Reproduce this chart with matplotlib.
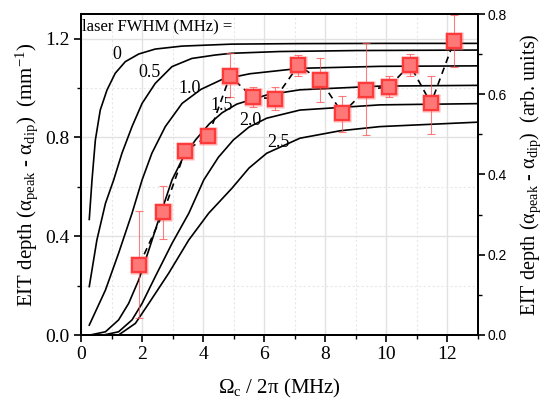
import matplotlib
matplotlib.use("Agg")
import matplotlib.pyplot as plt
from matplotlib.ticker import MultipleLocator, FormatStrFormatter

plt.rcParams['font.family'] = ['Liberation Serif', 'DejaVu Serif']
plt.rcParams['mathtext.fontset'] = 'custom'
plt.rcParams['mathtext.rm'] = 'Liberation Serif'
plt.rcParams['mathtext.it'] = 'Liberation Serif:italic'

# theory curves for each laser FWHM
fwhm_labels = ["0", "0.5", "1.0", "1.5", "2.0", "2.5"]
curve_x = [
    [0.27, 0.36, 0.47, 0.63, 0.85, 1.12, 1.45, 1.89, 2.43, 3.31, 4.94, 7.0, 10.0, 13.0],
    [0.27, 0.52, 0.80, 1.07, 1.34, 1.67, 2.00, 2.43, 2.98, 3.63, 4.40, 4.94, 6.5, 9.0, 13.0],
    [0.27, 0.80, 1.23, 1.67, 2.00, 2.32, 2.76, 3.31, 3.93, 4.62, 5.53, 7.17, 9.79, 13.0],
    [0.30, 0.80, 1.23, 1.56, 1.89, 2.22, 2.54, 2.98, 3.35, 3.75, 4.20, 4.62, 5.10, 6.08, 7.17, 9.79, 13.0],
    [0.74, 1.23, 1.67, 2.00, 2.43, 2.98, 3.53, 4.02, 4.50, 4.99, 5.50, 6.08, 7.17, 9.79, 13.0],
    [1.23, 1.78, 2.22, 2.87, 3.53, 4.18, 4.94, 5.50, 6.08, 7.17, 8.48, 9.79, 13.0],
]
curve_y = [
    [0.468, 0.628, 0.79, 0.911, 0.992, 1.06, 1.107, 1.138, 1.158, 1.170, 1.178, 1.180, 1.181, 1.181],
    [0.196, 0.385, 0.533, 0.628, 0.736, 0.844, 0.938, 1.019, 1.087, 1.120, 1.134, 1.141, 1.148, 1.152, 1.154],
    [0.04, 0.182, 0.331, 0.493, 0.628, 0.736, 0.844, 0.938, 0.995, 1.035, 1.058, 1.080, 1.088, 1.090],
    [0.0, 0.013, 0.061, 0.128, 0.223, 0.344, 0.466, 0.628, 0.72, 0.79, 0.855, 0.90, 0.935, 0.972, 0.993, 1.008, 1.011],
    [0.0, 0.013, 0.061, 0.128, 0.236, 0.371, 0.493, 0.628, 0.72, 0.79, 0.842, 0.878, 0.911, 0.932, 0.937],
    [0.0, 0.047, 0.128, 0.25, 0.385, 0.493, 0.594, 0.676, 0.736, 0.797, 0.827, 0.844, 0.862],
]
label_x = [1.18, 2.23, 3.54, 4.60, 5.56, 6.48]
label_y = [1.138, 1.065, 1.0, 0.93, 0.867, 0.778]

# measured EIT depth
meas_x = [1.91, 2.70, 3.41, 4.17, 4.88, 5.62, 6.35, 7.12, 7.83, 8.56, 9.32, 10.09, 10.77, 11.46, 12.22]
meas_y = [0.284, 0.497, 0.745, 0.806, 1.049, 0.963, 0.957, 1.092, 1.033, 0.898, 0.992, 1.006, 1.094, 0.938, 1.192]
err_lo = [0.214, 0.109, 0.02, 0.025, 0.084, 0.038, 0.046, 0.043, 0.088, 0.075, 0.182, 0.043, 0.045, 0.124, 0.105]
err_hi = [0.219, 0.108, 0.02, 0.025, 0.092, 0.040, 0.046, 0.042, 0.088, 0.071, 0.189, 0.043, 0.043, 0.111, 0.104]

fig = plt.figure(figsize=(5.43, 4.0), dpi=100)
ax = fig.add_axes([0.1492, 0.1625, 0.7311, 0.8025])

for xs, ys in zip(curve_x, curve_y):
    ax.plot(xs, ys, color='black', lw=1.2, zorder=2)
for lab, lx, ly in zip(fwhm_labels, label_x, label_y):
    ax.text(lx, ly, lab, fontsize=13, ha='center', va='center', zorder=2)
ax.text(0.03, 1.25, "laser FWHM (MHz) =", fontsize=12, ha='left', va='center')

ax.plot(meas_x, meas_y, color='black', lw=1.2, dashes=(4, 3), zorder=3)
ax.errorbar(meas_x, meas_y, yerr=[err_lo, err_hi], fmt='none', ecolor='#ff5050',
            elinewidth=0.8, capsize=3, capthick=0.8, alpha=0.75, zorder=4)
# soft halo + square marker
ax.plot(meas_x, meas_y, ls='none', marker='s', ms=12.5, mfc='#ff5a5a', mec='none',
        alpha=0.45, zorder=5)
ax.plot(meas_x, meas_y, ls='none', marker='s', ms=9.5, mfc='#ff7878', mec='#ff3a3a',
        mew=1.6, zorder=6)

ax.set_xlim(0, 13)
ax.set_ylim(0, 1.3)
ax.xaxis.set_major_locator(MultipleLocator(2))
ax.xaxis.set_minor_locator(MultipleLocator(1))
ax.yaxis.set_major_locator(MultipleLocator(0.4))
ax.yaxis.set_minor_locator(MultipleLocator(0.2))
ax.yaxis.set_major_formatter(FormatStrFormatter('%.1f'))
ax.grid(True, which='major', color='#e2e2e2', lw=1.0, zorder=0)
ax.grid(True, which='minor', color='#e8e8e8', lw=0.8, ls=(0, (2, 2)), zorder=0)
ax.set_axisbelow(True)
ax.tick_params(which='major', direction='out', length=5, width=1.2, labelsize=14, pad=3)
ax.tick_params(which='minor', direction='out', length=3, width=1.0)
ax.tick_params(top=False, which='both')
for s in ax.spines.values():
    s.set_linewidth(1.4)

ax.set_xlabel(r"Ω$_{\mathrm{c}}$ / 2π (MHz)", fontsize=15, labelpad=10)
ax.set_ylabel(r"EIT depth (α$_{\mathrm{peak}}$ - α$_{\mathrm{dip}}$)  (mm$^{-1}$)", fontsize=15, labelpad=4)

ax2 = ax.twinx()
ax2.set_ylim(0, 0.8)
ax2.yaxis.set_major_locator(MultipleLocator(0.2))
ax2.yaxis.set_minor_locator(MultipleLocator(0.1))
ax2.yaxis.set_major_formatter(FormatStrFormatter('%.1f'))
ax2.tick_params(which='major', direction='out', length=5, width=1.2, labelsize=10, pad=2)
ax2.tick_params(which='minor', direction='out', length=3, width=1.0)
for t in ax2.get_yticklabels():
    t.set_fontfamily('Liberation Sans')
for s in ax2.spines.values():
    s.set_linewidth(1.4)
ax2.set_ylabel(r"EIT depth (α$_{\mathrm{peak}}$ - α$_{\mathrm{dip}}$)  (arb. units)", fontsize=14.5, labelpad=8)

fig.savefig("out.png", dpi=100)
